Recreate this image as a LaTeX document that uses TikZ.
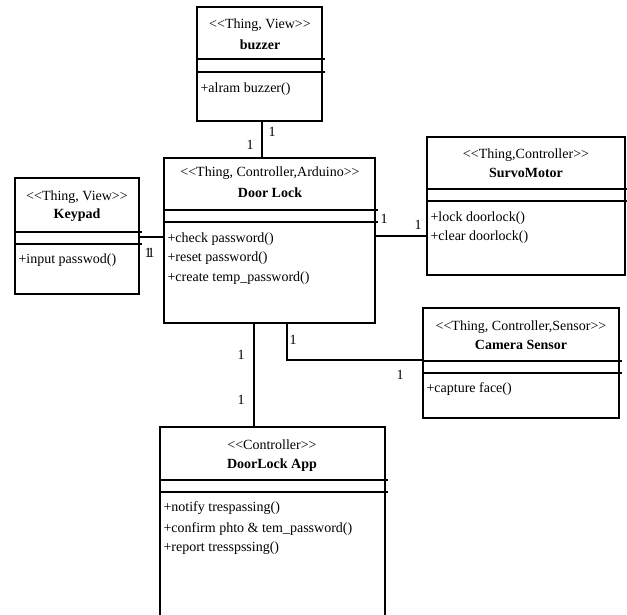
\documentclass[tikz,border=0pt]{standalone}
\usepackage{fontspec}
\setmainfont{Liberation Serif}
\newcommand{\stL}{<{}<}
\newcommand{\stR}{>{}>}
\begin{document}
\begin{tikzpicture}[x=1pt,y=-1pt,
  line width=1.1pt,
  classbox/.style={draw, rectangle, inner sep=0pt, outer sep=0pt, anchor=north west},
  txt/.style={inner sep=0pt, font=\fontsize{14}{16}\selectfont},
  stereo/.style={txt},
  cname/.style={txt, font=\fontsize{14}{16}\selectfont\bfseries},
  meth/.style={txt, anchor=west},
  mult/.style={txt}]
\clip (0,0) rectangle (627,615);

% class boxes
\node[classbox, minimum width=125pt, minimum height=114pt] (buzzer) at (197,7) {};
\node[classbox, minimum width=211pt, minimum height=165pt] (door) at (164,158) {};
\node[classbox, minimum width=124pt, minimum height=116pt] (keypad) at (15,178) {};
\node[classbox, minimum width=198pt, minimum height=138pt] (survo) at (427,137) {};
\node[classbox, minimum width=196pt, minimum height=110pt] (camera) at (423,308) {};
\node[classbox, minimum width=225pt, minimum height=220pt] (app) at (160,427) {};

% compartment separators
\foreach \b/\ya/\yb in {buzzer/59/72, door/210/222, keypad/232/244,
                        survo/189/201, camera/361/373, app/480/492} {
  \draw (\b.west |- 0,\ya) -- ([xshift=3pt]\b.east |- 0,\ya);
  \draw (\b.west |- 0,\yb) -- ([xshift=3pt]\b.east |- 0,\yb);
}

% buzzer
\node[stereo] (bzs) at (260,25) {\stL Thing, View\stR};
\node[cname] (bzn) at (260,45) {buzzer};
\node[meth] (bzm) at (200,89) {+alram buzzer()};

% door lock
\node[stereo] (dls) at (270,173) {\stL Thing, Controller,Arduino\stR};
\node[cname] (dln) at (270,193) {Door Lock};
\node[meth] (dlm1) at (167,239) {+check password()};
\node[meth] (dlm2) at (167,258) {+reset password()};
\node[meth] (dlm3) at (167,278) {+create temp\_password()};

% keypad
\node[stereo] (kps) at (77,197) {\stL Thing, View\stR};
\node[cname] (kpn) at (77,215) {Keypad};
\node[meth] (kpm) at (18,260) {+input passwod()};

% servo motor
\node[stereo] (sms) at (526,155) {\stL Thing,Controller\stR};
\node[cname] (smn) at (526,173) {SurvoMotor};
\node[meth] (smm1) at (430,218) {+lock doorlock()};
\node[meth] (smm2) at (430,237) {+clear doorlock()};

% camera sensor
\node[stereo] (css) at (521,327) {\stL Thing, Controller,Sensor\stR};
\node[cname] (csn) at (521,345) {Camera Sensor};
\node[meth] (csm) at (426,389) {+capture face()};

% app
\node[stereo] (aps) at (272,445) {\stL Controller\stR};
\node[cname] (apn) at (272,465) {DoorLock App};
\node[meth] (apm1) at (163,508) {+notify trespassing()};
\node[meth] (apm2) at (163,529) {+confirm phto \& tem\_password()};
\node[meth] (apm3) at (163,548) {+report tresspssing()};

% association routes
\coordinate (bzx) at (262,0);
\coordinate (kpy) at (0,237);
\coordinate (smy) at (0,236);
\coordinate (apx) at (254,0);
\coordinate (csx) at (287,0);
\coordinate (csy) at (0,360);

\draw (buzzer.south -| bzx) -- (door.north -| bzx);
\draw (keypad.east |- kpy) -- (door.west |- kpy);
\draw (door.east |- smy) -- (survo.west |- smy);
\draw (door.south -| apx) -- (app.north -| apx);
\draw (door.south -| csx) |- (camera.west |- csy);

% multiplicities
\node[mult] (m1) at (272,132) {1};
\node[mult] (m2) at (250,145) {1};
\node[mult] (m3) at (384,219) {1};
\node[mult] (m4) at (418,225) {1};
\node[mult] (m5) at (148,253) {1};
\node[mult] (m6) at (151,253) {1};
\node[mult] (m7) at (241,355) {1};
\node[mult] (m8) at (241,400) {1};
\node[mult] (m9) at (293,340) {1};
\node[mult] (m10) at (400,375) {1};
\end{tikzpicture}
\end{document}
